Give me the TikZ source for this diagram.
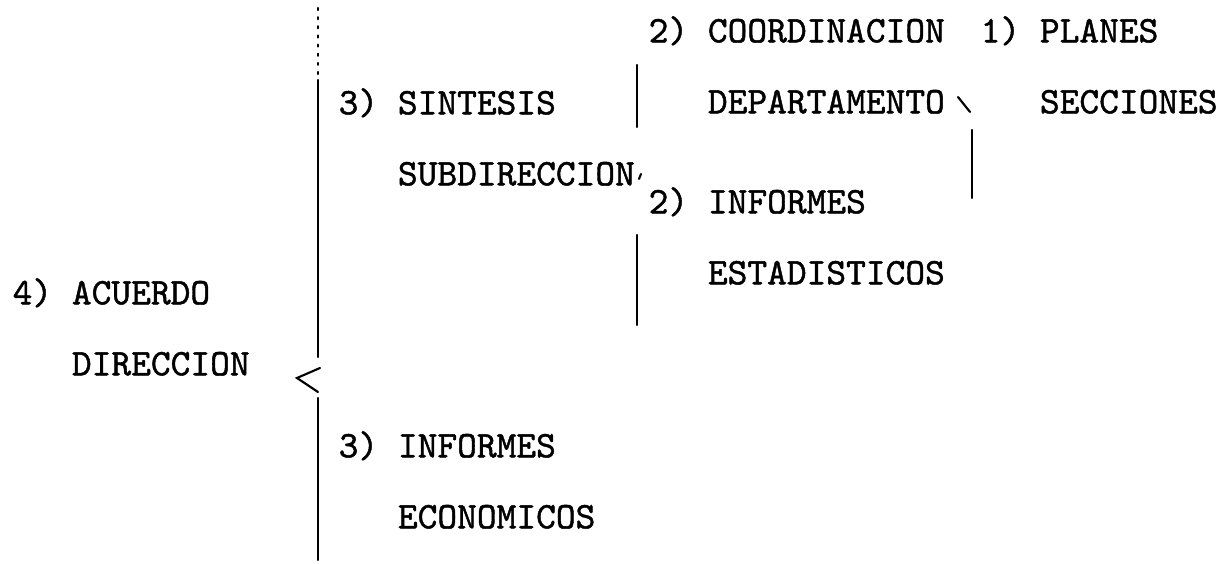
\documentclass[tikz,border=0pt]{standalone}
\usepackage{fontspec}
\newfontfamily\typer{Latin Modern Mono}[FakeBold=1.2]
\usetikzlibrary{positioning}

\tikzset{
  lbl/.style={font=\typer\fontsize{10.7}{20.2}\selectfont, align=left, anchor=west, inner sep=0pt},
  bar/.style={line width=0.6pt, line cap=round}
}

\begin{document}
\begin{tikzpicture}
  \useasboundingbox (0,0) rectangle (12.2,-5.64);

  % Draw the labels
  \node[lbl] (acuerdo) at (0.12,-3.27) {4) ACUERDO\\\hphantom{4) }DIRECCION};
  \node[lbl] (sintesis) at (3.38,-1.37) {3) SINTESIS\\\hphantom{3) }SUBDIRECCION};
  \node[lbl] (economicos) at (3.38,-4.80) {3) INFORMES\\\hphantom{3) }ECONOMICOS};
  \node[lbl] (coordinacion) at (6.48,-0.65) {2) COORDINACION\\\hphantom{2) }DEPARTAMENTO};
  \node[lbl] (estadisticos) at (6.48,-2.36) {2) INFORMES\\\hphantom{2) }ESTADISTICOS};
  \node[lbl] (planes) at (9.80,-0.65) {1) PLANES\\\hphantom{1) }SECCIONES};

  % Draw the big brace
  \draw[bar, dotted] (3.18,-0.08) -- (3.18,-0.80);
  \draw[bar] (3.18,-0.80) -- (3.18,-3.57); % upper half
  \draw[bar] (3.20,-3.68) -- (2.97,-3.78) -- (3.18,-3.92); % tip
  \draw[bar] (3.18,-3.98) -- (3.18,-5.60); % lower half

  % Draw the middle brace
  \draw[bar] (6.37,-0.65) -- (6.37,-1.27);
  \draw[bar] (6.41,-1.74) -- (6.39,-1.79); % tip
  \draw[bar] (6.37,-2.35) -- (6.37,-3.25);

  % Draw the small brace
  \draw[bar] (9.58,-0.97) -- (9.70,-1.12); % tip
  \draw[bar] (9.72,-1.30) -- (9.72,-1.98);
\end{tikzpicture}
\end{document}
